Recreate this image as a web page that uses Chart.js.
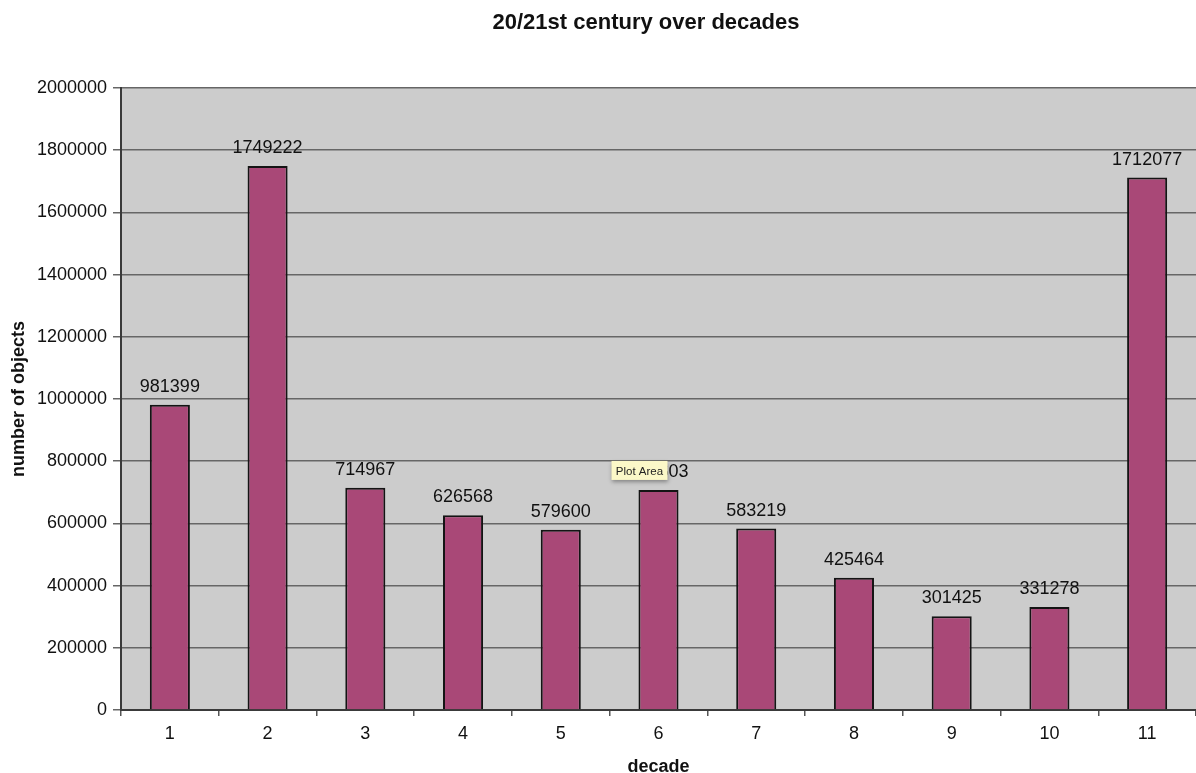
<!DOCTYPE html>
<html>
<head>
<meta charset="utf-8">
<script src="https://cdn.jsdelivr.net/npm/chart.js@4"></script>
<style>
  html, body { margin: 0; padding: 0; background: #ffffff; }
  #wrap { width: 1196px; height: 773px; }
</style>
</head>
<body>
<div id="wrap"><canvas id="chart" width="1196" height="773"></canvas></div>
<script>
// Objects counted per decade of the 20th/21st century
const decades = ['1', '2', '3', '4', '5', '6', '7', '8', '9', '10', '11'];
const objectCounts = [981399, 1749222, 714967, 626568, 579600, 707603, 583219, 425464, 301425, 331278, 1712077];
const yTicks = [0, 200000, 400000, 600000, 800000, 1000000, 1200000, 1400000, 1600000, 1800000, 2000000];
const chartTitle = '20/21st century over decades';

const FONT = '"Liberation Sans", Arial, sans-serif';

// Grey plot background and the heading
const plotBackground = {
  id: 'plotBackground',
  beforeDraw(chart) {
    const { ctx, chartArea: a } = chart;
    ctx.save();
    ctx.fillStyle = '#cccccc';
    ctx.fillRect(a.left, a.top, a.right - a.left, a.bottom - a.top);
    ctx.fillStyle = '#111111';
    ctx.font = 'bold 22px ' + FONT;
    ctx.textAlign = 'center';
    ctx.textBaseline = 'middle';
    ctx.fillText(chartTitle, 646, 23);
    ctx.restore();
  }
};

// Value labels above each bar, plus the hover note on the sixth bar
const barLabels = {
  id: 'barLabels',
  afterDatasetsDraw(chart) {
    const { ctx } = chart;
    const meta = chart.getDatasetMeta(0);
    ctx.save();
    ctx.font = '18px ' + FONT;
    ctx.fillStyle = '#111111';
    ctx.textAlign = 'center';
    ctx.textBaseline = 'alphabetic';
    meta.data.forEach((bar, i) => {
      ctx.fillText(String(objectCounts[i]), bar.x, bar.y - 13);
    });
    ctx.restore();

    // hover note "Plot Area"
    const b6 = meta.data[5];
    const bx = b6.x - 47, by = b6.y - 29, bw = 56, bh = 19;
    ctx.save();
    ctx.shadowColor = 'rgba(0,0,0,0.35)';
    ctx.shadowBlur = 4;
    ctx.shadowOffsetY = 2;
    ctx.fillStyle = '#fbf8c8';
    ctx.fillRect(bx, by, bw, bh);
    ctx.restore();
    ctx.save();
    ctx.font = '11.5px ' + FONT;
    ctx.fillStyle = '#222222';
    ctx.textAlign = 'center';
    ctx.textBaseline = 'middle';
    ctx.fillText('Plot Area', bx + bw / 2, by + bh / 2 + 1);
    ctx.restore();
  }
};

new Chart(document.getElementById('chart'), {
  type: 'bar',
  data: {
    labels: decades,
    datasets: [{
      data: objectCounts,
      backgroundColor: '#a94877',
      borderColor: '#141414',
      borderWidth: 2,
      barPercentage: 0.41,
      categoryPercentage: 1.0
    }]
  },
  options: {
    responsive: false,
    animation: false,
    layout: { padding: { top: 88, right: 0, bottom: 0, left: 0 } },
    plugins: {
      legend: { display: false },
      tooltip: { enabled: false },
      title: { display: false }
    },
    scales: {
      x: {
        offset: true,
        grid: {
          display: true,
          offset: true,
          drawOnChartArea: false,
          drawTicks: true,
          tickLength: 6,
          color: '#555555',
          lineWidth: 1.5
        },
        border: { display: true, color: '#3a3a3a', width: 2 },
        ticks: {
          color: '#111111',
          font: { family: FONT, size: 18 },
          padding: 7
        },
        title: {
          display: true,
          text: 'decade',
          color: '#111111',
          font: { family: FONT, size: 18, weight: 'bold' },
          padding: { top: 9, bottom: -5 }
        },
        afterFit(scale) { scale.height = 63; }
      },
      y: {
        min: 0,
        max: 2000000,
        afterBuildTicks(scale) {
          scale.ticks = yTicks.map(v => ({ value: v }));
        },
        grid: {
          color: '#666666',
          lineWidth: 1.5,
          drawTicks: true,
          tickLength: 8
        },
        border: { display: true, color: '#3a3a3a', width: 2 },
        ticks: {
          color: '#111111',
          font: { family: FONT, size: 18 },
          padding: 6,
          callback: (v) => String(v)
        },
        title: {
          display: true,
          text: 'number of objects',
          color: '#111111',
          font: { family: FONT, size: 18, weight: 'bold' },
          padding: { top: 8, bottom: 6 }
        },
        afterFit(scale) { scale.width = 121; }
      }
    }
  },
  plugins: [plotBackground, barLabels]
});
</script>
</body>
</html>
